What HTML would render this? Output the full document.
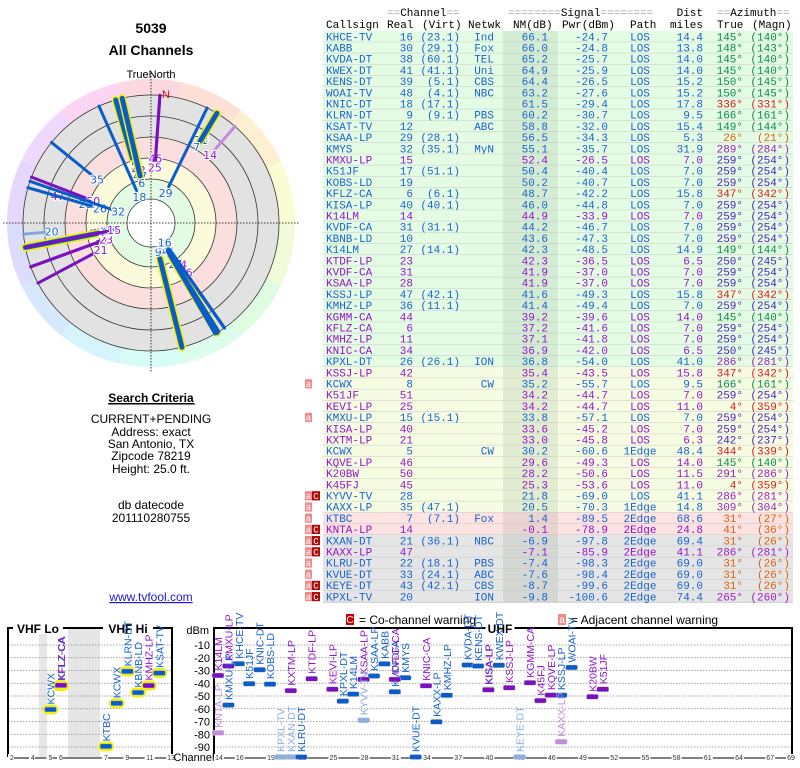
<!DOCTYPE html>
<html><head><meta charset="utf-8"><style>
html,body{margin:0;padding:0;background:#fff;}
svg{display:block;}
.mono{font-family:"Liberation Mono",monospace;font-size:11px;}
.sans{font-family:"Liberation Sans",sans-serif;}
</style></head><body>
<svg id="page" width="800" height="768" viewBox="0 0 800 768" xmlns="http://www.w3.org/2000/svg">
<g class="sans" text-anchor="middle" fill="#000">
<text x="151" y="33" font-size="14" font-weight="bold">5039</text>
<text x="151" y="55" font-size="14" font-weight="bold">All Channels</text>
<text x="151" y="78" font-size="11">TrueNorth</text>
<text x="151" y="402" font-size="12" font-weight="bold" text-decoration="underline">Search Criteria</text>
<line x1="108" y1="404" x2="195" y2="404" stroke="#000" stroke-width="1"/>
<text x="151" y="423" font-size="12">CURRENT+PENDING</text>
<text x="151" y="436" font-size="12">Address: exact</text>
<text x="151" y="448" font-size="12">San Antonio, TX</text>
<text x="151" y="460" font-size="12">Zipcode 78219</text>
<text x="151" y="473" font-size="12">Height: 25.0 ft.</text>
<text x="151" y="509" font-size="12">db datecode</text>
<text x="151" y="522" font-size="12">201110280755</text>
<text x="151" y="601" font-size="12" fill="#1a1adb" text-decoration="underline">www.tvfool.com</text>
</g>
<g id="polar"></g>
<g id="table" class="mono"></g>
<g id="spectrum"></g>
</svg>
<script>
const callsigns=["KHCE-TV","KABB","KVDA-DT","KWEX-DT","KENS-DT","WOAI-TV","KNIC-DT","KLRN-DT","KSAT-TV","KSAA-LP","KMYS","KMXU-LP","K51JF","KOBS-LD","KFLZ-CA","KISA-LP","K14LM","KVDF-CA","KBNB-LD","K14LM","KTDF-LP","KVDF-CA","KSAA-LP","KSSJ-LP","KMHZ-LP","KGMM-CA","KFLZ-CA","KMHZ-LP","KNIC-CA","KPXL-DT","KSSJ-LP","KCWX","K51JF","KEVI-LP","KMXU-LP","KISA-LP","KXTM-LP","KCWX","KQVE-LP","K20BW","K45FJ","KYVV-TV","KAXX-LP","KTBC","KNTA-LP","KXAN-DT","KAXX-LP","KLRU-DT","KVUE-DT","KEYE-DT","KPXL-TV"];
const realCh=[16,30,38,41,39,48,18,9,12,29,32,15,17,19,6,40,14,31,10,27,23,31,28,47,36,44,6,11,34,26,42,8,51,25,15,40,21,5,46,50,45,28,35,7,14,21,47,22,33,43,20];
const virtCh=["(23.1)","(29.1)","(60.1)","(41.1)","(5.1)","(4.1)","(17.1)","(9.1)","","(28.1)","(35.1)","","(51.1)","","(6.1)","(40.1)","","(31.1)","","(14.1)","","","","(42.1)","(11.1)","","","","","(26.1)","","","","","(15.1)","","","","","","","","(47.1)","(7.1)","","(36.1)","","(18.1)","(24.1)","(42.1)",""];
const netwk=["Ind","Fox","TEL","Uni","CBS","NBC","","PBS","ABC","","MyN","","","","","","","","","","","","","","","","","","","ION","","CW","","","","","","CW","","","","","","Fox","","NBC","","PBS","ABC","CBS","ION"];
const nmDb=[66.1,66.0,65.2,64.9,64.4,63.2,61.5,60.2,58.8,56.5,55.1,52.4,50.4,50.2,48.7,46.0,44.9,44.2,43.6,42.3,42.3,41.9,41.9,41.6,41.4,39.2,37.2,37.1,36.9,36.8,35.4,35.2,34.2,34.2,33.8,33.6,33.0,30.2,29.6,28.2,25.3,21.8,20.5,1.4,-0.1,-6.9,-7.1,-7.4,-7.6,-8.7,-9.8];
const pwrDbm=[-24.7,-24.8,-25.7,-25.9,-26.5,-27.6,-29.4,-30.7,-32.0,-34.3,-35.7,-26.5,-40.4,-40.7,-42.2,-44.8,-33.9,-46.7,-47.3,-48.5,-36.5,-37.0,-37.0,-49.3,-49.4,-39.6,-41.6,-41.8,-42.0,-54.0,-43.5,-55.7,-44.7,-44.7,-57.1,-45.2,-45.8,-60.6,-49.3,-50.6,-53.6,-69.0,-70.3,-89.5,-78.9,-97.8,-85.9,-98.3,-98.4,-99.6,-100.6];
const pathType=["LOS","LOS","LOS","LOS","LOS","LOS","LOS","LOS","LOS","LOS","LOS","LOS","LOS","LOS","LOS","LOS","LOS","LOS","LOS","LOS","LOS","LOS","LOS","LOS","LOS","LOS","LOS","LOS","LOS","LOS","LOS","LOS","LOS","LOS","LOS","LOS","LOS","1Edge","LOS","LOS","LOS","LOS","1Edge","2Edge","2Edge","2Edge","2Edge","2Edge","2Edge","2Edge","2Edge"];
const distMi=[14.4,13.8,14.0,14.0,15.2,15.2,17.8,9.5,15.4,5.3,31.9,7.0,7.0,7.0,15.8,7.0,7.0,7.0,7.0,14.9,6.5,7.0,7.0,15.8,7.0,14.0,7.0,7.0,6.5,41.0,15.8,9.5,7.0,11.0,7.0,7.0,6.3,48.4,14.0,11.5,11.0,41.1,14.8,68.6,24.8,69.4,41.1,69.0,69.0,69.0,74.4];
const azTrue=[145,148,145,145,150,150,336,166,149,26,289,259,259,259,347,259,259,259,259,149,250,259,259,347,259,145,259,259,250,286,347,166,259,4,259,259,242,344,145,291,4,286,309,31,41,31,286,31,31,31,265];
const azMagn=[140,143,140,140,145,145,331,161,144,21,284,254,254,254,342,254,254,254,254,144,245,254,254,342,254,140,254,254,245,281,342,161,254,359,254,254,237,339,140,286,359,281,304,27,36,26,281,26,26,26,260];
const isAnalog=[0,0,0,0,0,0,0,0,0,0,0,1,0,0,0,0,1,0,0,0,1,1,1,0,0,1,1,1,1,0,1,0,1,1,0,1,1,0,1,1,1,0,0,0,1,0,1,0,0,0,0];
const adjWarn=[0,0,0,0,0,0,0,0,0,0,0,0,0,0,0,0,0,0,0,0,0,0,0,0,0,0,0,0,0,0,0,1,0,0,1,0,0,0,0,0,0,1,1,1,1,1,1,1,1,1,1];
const coWarn=[0,0,0,0,0,0,0,0,0,0,0,0,0,0,0,0,0,0,0,0,0,0,0,0,0,0,0,0,0,0,0,0,0,0,0,0,0,0,0,0,0,1,0,0,1,1,1,0,0,1,1];
const dbmTicks=[-10,-20,-30,-40,-50,-60,-70,-80,-90];
const vhfTicks=[2,4,5,6,7,9,11,13];
const uhfTicks=[14,16,19,22,25,28,31,34,37,40,43,46,49,52,55,58,61,64,67,69];

const NS="http://www.w3.org/2000/svg";
function mk(parent,tag,attrs,txt){const e=document.createElementNS(NS,tag);for(const k in attrs)e.setAttribute(k,attrs[k]);if(txt!==undefined)e.textContent=txt;parent.appendChild(e);return e;}
const BLUE="#1763d0",PURPLE="#9414cc";
function azColor(a){
  if(a>=140&&a<=170)return "#0a8a4a";
  if(a>=330||a<=10)return "#e01818";
  if(a>=20&&a<=45)return "#e0600c";
  if(a>=240&&a<=260)return "#4a1ec0";
  return "#a01ec0";
}
function rowBg(nm){if(nm>=36)return "#e4fce4";if(nm>=15)return "#f5fce2";if(nm>-1)return "#fde2e2";return "#e5e5e5";}

// ---------- TABLE ----------
const tbl=document.getElementById('table');
const ROW0=31,RH=11.2;
function hdr(x,y,anchor,parts,name){const t=mk(tbl,'text',{x:x,y:y,'text-anchor':anchor});parts.forEach(p=>{mk(t,'tspan',{fill:p[1]},p[0]);});}
hdr(387,16,'start',[["==","#aaa"],["Channel","#000"],["==","#aaa"]],'header-channel-group');
hdr(508,16,'start',[["========","#aaa"],["Signal","#000"],["========","#aaa"]],'header-signal-group');
hdr(703,16,'end',[["Dist","#000"]],'header-dist');
hdr(717,16,'start',[["==","#aaa"],["Azimuth","#000"],["==","#aaa"]],'header-azimuth-group');
[[326,'start','Callsign'],[387,'start','Real'],[422,'start','(Virt)'],[468,'start','Netwk'],[513,'start','NM(dB)'],[562,'start','Pwr(dBm)'],[630,'start','Path'],[703,'end','miles'],[717,'start','True'],[752,'start','(Magn)']].forEach(h=>{
  const t=mk(tbl,'text',{x:h[0],y:28,'text-anchor':h[1],fill:'#000'},h[2]);
  
  
});
for(let i=0;i<callsigns.length;i++){
  const top=ROW0+i*RH,by=top+9.3;
  const g=mk(tbl,'g',{});
  
  
  mk(g,'rect',{x:323,y:top,width:470,height:RH,fill:rowBg(nmDb[i])});
  mk(g,'rect',{x:503,y:top,width:55,height:RH,fill:'rgba(40,80,40,0.09)'});
  mk(g,'line',{x1:323,y1:top+RH,x2:793,y2:top+RH,stroke:'#c8c8c8','stroke-width':1});
  const c=isAnalog[i]?PURPLE:BLUE;
  mk(g,'text',{x:326,y:by,fill:c},callsigns[i]);
  mk(g,'text',{x:413,y:by,fill:c,'text-anchor':'end'},String(realCh[i]));
  if(virtCh[i])mk(g,'text',{x:460,y:by,fill:c,'text-anchor':'end'},virtCh[i]);
  if(netwk[i])mk(g,'text',{x:494,y:by,fill:c,'text-anchor':'end'},netwk[i]);
  mk(g,'text',{x:548,y:by,fill:c,'text-anchor':'end'},nmDb[i].toFixed(1));
  mk(g,'text',{x:608,y:by,fill:c,'text-anchor':'end'},pwrDbm[i].toFixed(1));
  mk(g,'text',{x:640,y:by,fill:c,'text-anchor':'middle'},pathType[i]);
  mk(g,'text',{x:703,y:by,fill:c,'text-anchor':'end'},distMi[i].toFixed(1));
  const ac=azColor(azTrue[i]);
  mk(g,'text',{x:743,y:by,fill:ac,'text-anchor':'end'},azTrue[i]+'°');
  mk(g,'text',{x:790,y:by,fill:ac,'text-anchor':'end'},'('+azMagn[i]+'°)');
  if(adjWarn[i]){const a=mk(tbl,'g',{});
    mk(a,'rect',{x:305,y:top+1,width:7,height:RH-2,fill:'#f08a8a'});mk(a,'text',{x:308.5,y:by-0.5,fill:'#fff','text-anchor':'middle','font-size':9},'a');}
  if(coWarn[i]){const a=mk(tbl,'g',{});
    mk(a,'rect',{x:312,y:top+1,width:8,height:RH-2,fill:'#b00a0a'});mk(a,'text',{x:316,y:by-0.5,fill:'#fff','text-anchor':'middle','font-size':9},'C');}
}

// ---------- POLAR ----------
const pol=document.getElementById('polar');
const CX=151,CY=223,RO=144,RG=128;
const sectorCols=["#fcd8e0","#fde0d6","#fdf0d0","#fcfcd4","#f0fcd8","#e0fce0","#dcfcec","#d8fcf8","#d6f4fc","#d8e8fc","#dcdcfc","#e6d8fc","#f0d8fc","#fad6f4"];
function pt(az,r){const a=az*Math.PI/180;return [CX+r*Math.sin(a),CY-r*Math.cos(a)];}
const step=360/sectorCols.length;
sectorCols.forEach((col,k)=>{
  const a0=k*step-step/2,a1=a0+step;
  const p0=pt(a0,RO),p1=pt(a1,RO);
  const s=mk(pol,'path',{d:`M${CX},${CY}L${p0[0]},${p0[1]}A${RO},${RO} 0 0 1 ${p1[0]},${p1[1]}Z`,fill:col});
  
  
});
mk(pol,'circle',{cx:CX,cy:CY,r:RG,fill:'#e2e2e2'});
[[86,'#fbdede'],[65,'#fbfbdc'],[44,'#e2fbe2'],[24,'#fff']].forEach(c=>mk(pol,'circle',{cx:CX,cy:CY,r:c[0],fill:c[1]}));
[24,44,65,86,107,128].forEach(r=>{const c=mk(pol,'circle',{cx:CX,cy:CY,r:r,fill:'none',stroke:'#333','stroke-width':0.8});});
mk(pol,'line',{x1:CX-RO-4,y1:CY,x2:CX+RO+4,y2:CY,stroke:'#000','stroke-width':0.8,'stroke-dasharray':'1.5,1.5'});
mk(pol,'line',{x1:CX,y1:CY-RO-6,x2:CX,y2:CY+RO+6,stroke:'#000','stroke-width':0.8,'stroke-dasharray':'1.5,1.5'});
const nl=mk(pol,'text',{x:166,y:98,fill:'#d01010','font-size':11,'font-family':'Liberation Sans, sans-serif','text-anchor':'middle'},'N');

function rInner(nm){return Math.max(28,Math.min(118,31+(66-nm)*1.0));}
const order=callsigns.map((_,i)=>i).sort((a,b)=>nmDb[a]-nmDb[b]);
order.forEach(i=>{
  const r0=rInner(nmDb[i]);const p0=pt(azTrue[i],r0),p1=pt(azTrue[i],RG);
  const col=coWarn[i]?(isAnalog[i]?'#c58ae0':'#7fa8e0'):(isAnalog[i]?'#7a10c0':'#0a5cc8');
  const vhf=realCh[i]<=13;const w=vhf?5:3;
  const g=mk(pol,'g',{});
  
  
  if(vhf)mk(g,'line',{x1:p0[0],y1:p0[1],x2:p1[0],y2:p1[1],stroke:'#f5f000','stroke-width':w+3,'stroke-linecap':'round'});
  mk(g,'line',{x1:p0[0],y1:p0[1],x2:p1[0],y2:p1[1],stroke:col,'stroke-width':w,'stroke-linecap':'round'});
  const lp=pt(azTrue[i],r0-7);
  mk(g,'text',{x:lp[0],y:lp[1]+4,fill:isAnalog[i]?PURPLE:BLUE,'font-size':11,'font-family':'DejaVu Sans, sans-serif','text-anchor':'middle',stroke:'#fff','stroke-width':2,'paint-order':'stroke'},String(realCh[i]));
});

// ---------- SPECTRUM ----------
const sp=document.getElementById('spectrum');
const YT=628,YB=757;
function yScale(v){return 645+(-10-v)*1.275;}
const chFreq=[0,0,57,63,69,79,85,177,183,189,195,201,207,213];
function xV(ch){const f=chFreq[ch];return f<=88?12+(f-57)*1.75:106+(f-177)*1.78;}
function xU(ch){return 218+(ch-14)*10.4;}
function xCh(ch){return ch<=13?xV(ch):xU(ch);}
const sans='Liberation Sans, sans-serif';
mk(sp,'rect',{x:39,y:YT,width:8,height:YB-YT,fill:'#e6e6e6'});
mk(sp,'rect',{x:68,y:YT,width:32,height:YB-YT,fill:'#e6e6e6'});
dbmTicks.forEach(v=>{
  const y=yScale(v);
  [[8,172],[214,792]].forEach(s=>{const l=mk(sp,'line',{x1:s[0],y1:y,x2:s[1],y2:y,stroke:'#888','stroke-width':0.8,'stroke-dasharray':'1.5,1.5'});});
  const t=mk(sp,'text',{x:210,y:y+4,'text-anchor':'end','font-size':11,'font-family':sans,fill:'#000'},String(v));
  
});
const du=mk(sp,'text',{x:209,y:634,'text-anchor':'end','font-size':11,'font-family':sans},'dBm');
// frames
const fv=mk(sp,'path',{d:`M8,${YB}V${YT}H172V${YB}`,fill:'none',stroke:'#000','stroke-width':2});
const fu=mk(sp,'path',{d:`M214,${YB}V${YT}H792V${YB}`,fill:'none',stroke:'#000','stroke-width':2});
mk(sp,'line',{x1:8,y1:YB+1,x2:172,y2:YB+1,stroke:'#000','stroke-width':1});
mk(sp,'line',{x1:214,y1:YB+1,x2:792,y2:YB+1,stroke:'#000','stroke-width':1});
[['VHF Lo',38],['VHF Hi',128],['UHF',500]].forEach(b=>{
  const w=b[0].length*7+8;
  mk(sp,'rect',{x:b[1]-w/2,y:YT-6,width:w,height:12,fill:'#fff'});
  const t=mk(sp,'text',{x:b[1],y:YT+5,'text-anchor':'middle','font-size':12,'font-weight':'bold','font-family':sans},b[0]);
  
});
vhfTicks.concat(uhfTicks).forEach(ch=>{
  const x=xCh(ch);
  mk(sp,'rect',{x:x-4,y:YB-3,width:ch>=10?10:6,height:8,fill:'#fff'});
  const t=mk(sp,'text',{x:x+(ch>=10?1:0),y:YB+3,'text-anchor':'middle','font-size':7,'font-family':sans,fill:'#333'},String(ch));
  
});
mk(sp,'rect',{x:176,y:YB-4,width:36,height:10,fill:'#fff'});
const cl=mk(sp,'text',{x:194,y:YB+4,'text-anchor':'middle','font-size':11,'font-family':sans},'Channel');
// legend
const lg=mk(sp,'g',{});
mk(lg,'rect',{x:346,y:614,width:8,height:11,fill:'#c00'});
mk(lg,'text',{x:350,y:623,'text-anchor':'middle',fill:'#fff','font-size':10,'font-family':sans},'C');
mk(lg,'text',{x:359,y:624,'font-size':12,'font-family':sans},'= Co-channel warning');
mk(lg,'rect',{x:558,y:614,width:8,height:11,fill:'#f08a8a'});
mk(lg,'text',{x:562,y:623,'text-anchor':'middle',fill:'#fff','font-size':10,'font-family':sans},'a');
mk(lg,'text',{x:571,y:624,'font-size':12,'font-family':sans},'= Adjacent channel warning');
// bars
callsigns.forEach((cs,i)=>{
  const x=xCh(realCh[i]),y=Math.min(yScale(pwrDbm[i]),YB);
  const fade=coWarn[i];
  const col=fade?(isAnalog[i]?'#c48ee0':'#8caee0'):(isAnalog[i]?'#7a10c0':'#0a5cc8');
  const tcol=fade?(isAnalog[i]?'#c48ee0':'#8caee0'):(isAnalog[i]?PURPLE:BLUE);
  const g=mk(sp,'g',{});
  
  
  if(realCh[i]<=13)mk(g,'rect',{x:x-8,y:y-5,width:16,height:10,rx:5,fill:'#f5f000'});
  mk(g,'rect',{x:x-6,y:y-2.5,width:12,height:5,rx:1.5,fill:col,stroke:'#ccc','stroke-width':0.5});
  mk(g,'text',{x:x+4,y:y-5,transform:`rotate(-90 ${x+4} ${y-5})`,'font-size':10.5,'font-family':sans,fill:tcol},cs);
});
</script>
</body></html>
